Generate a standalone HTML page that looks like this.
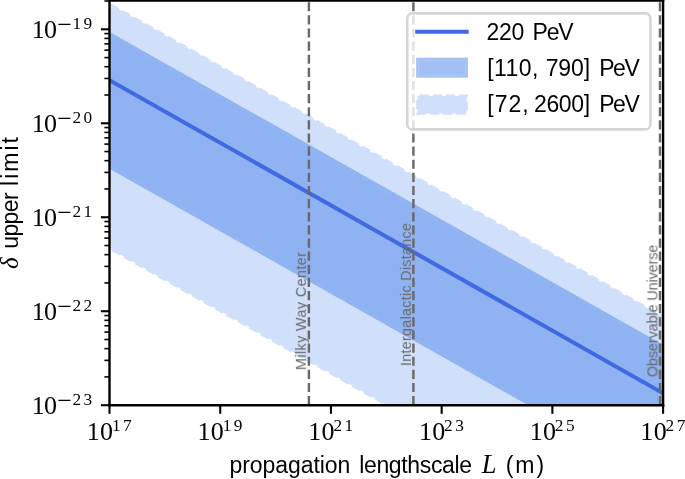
<!DOCTYPE html>
<html lang="en"><head><meta charset="utf-8"><title>delta upper limit vs propagation lengthscale</title>
<style>html,body{margin:0;padding:0;background:#fff;}body{width:685px;height:479px;overflow:hidden;}svg{display:block;}text{white-space:pre;}</style></head><body>
<svg width="685" height="479" viewBox="0 0 685 479">
<rect width="685" height="479" fill="#ffffff"/>
<defs><clipPath id="ax"><rect x="109.5" y="0.6" width="553.6" height="404.59999999999997"/></clipPath></defs>
<g clip-path="url(#ax)">
<polygon points="109.5,4.10 663.1,316.88 663.1,561.08 109.5,248.30" fill="#d0dffa"/>
<line x1="109.5" y1="4.10" x2="663.1" y2="316.88" stroke="#d0dffa" stroke-width="2.7" stroke-dasharray="9.17 3.96" stroke-dashoffset="11.9"/>
<line x1="109.5" y1="248.30" x2="663.1" y2="561.08" stroke="#d0dffa" stroke-width="2.7" stroke-dasharray="9.17 3.96" stroke-dashoffset="9.9"/>
<polygon points="109.5,31.90 663.1,344.68 663.1,481.48 109.5,168.70" fill="#8fb3f2"/>
<line x1="109.5" y1="34.70" x2="663.1" y2="347.48" stroke="#ffffff" stroke-opacity="0.1" stroke-width="0.8" stroke-dasharray="9.17 3.96"/>
<line x1="109.5" y1="165.90" x2="663.1" y2="478.68" stroke="#ffffff" stroke-opacity="0.1" stroke-width="0.8" stroke-dasharray="9.17 3.96"/>
<line x1="109.5" y1="80.2" x2="663.1" y2="393.2" stroke="#4169e1" stroke-width="4.0"/>
<line x1="308.9" y1="405.2" x2="308.9" y2="0.6" stroke="#696969" stroke-width="2.45" stroke-dasharray="9.17 3.96"/>
<line x1="413.4" y1="405.2" x2="413.4" y2="0.6" stroke="#696969" stroke-width="2.45" stroke-dasharray="9.17 3.96"/>
<line x1="660.0" y1="405.2" x2="660.0" y2="0.6" stroke="#696969" stroke-width="2.45" stroke-dasharray="9.17 3.96"/>
</g>
<g opacity="0.995">
<text transform="translate(305.90,370.15) rotate(-90)" font-family='"Liberation Sans", sans-serif' font-size="14.4" letter-spacing="0.388" fill="#696969">Milky Way Center</text>
<text transform="translate(410.90,366.10) rotate(-90)" font-family='"Liberation Sans", sans-serif' font-size="14.4" letter-spacing="0.262" fill="#696969">Intergalactic Distance</text>
<text transform="translate(657.40,377.22) rotate(-90)" font-family='"Liberation Sans", sans-serif' font-size="14.4" letter-spacing="-0.103" fill="#696969">Observable Universe</text>
</g>
<g stroke="#000" stroke-width="2.4" stroke-linecap="square" fill="none">
<line x1="109.5" y1="0.6" x2="109.5" y2="405.2"/><line x1="663.1" y1="0.6" x2="663.1" y2="405.2"/>
<line x1="109.5" y1="405.2" x2="663.1" y2="405.2"/><line x1="109.5" y1="0.6" x2="663.1" y2="0.6"/></g>
<g stroke="#000" stroke-width="2.1">
<line x1="100.9" y1="405.20" x2="109.5" y2="405.20"/>
<line x1="100.9" y1="311.23" x2="109.5" y2="311.23"/>
<line x1="100.9" y1="217.25" x2="109.5" y2="217.25"/>
<line x1="100.9" y1="123.28" x2="109.5" y2="123.28"/>
<line x1="100.9" y1="29.30" x2="109.5" y2="29.30"/>
<line x1="109.50" y1="405.2" x2="109.50" y2="413.8"/>
<line x1="220.22" y1="405.2" x2="220.22" y2="413.8"/>
<line x1="330.94" y1="405.2" x2="330.94" y2="413.8"/>
<line x1="441.66" y1="405.2" x2="441.66" y2="413.8"/>
<line x1="552.38" y1="405.2" x2="552.38" y2="413.8"/>
<line x1="663.10" y1="405.2" x2="663.10" y2="413.8"/>
</g><g stroke="#000" stroke-width="1.6">
<line x1="104.4" y1="376.91" x2="109.5" y2="376.91"/>
<line x1="104.4" y1="360.36" x2="109.5" y2="360.36"/>
<line x1="104.4" y1="348.62" x2="109.5" y2="348.62"/>
<line x1="104.4" y1="339.51" x2="109.5" y2="339.51"/>
<line x1="104.4" y1="332.07" x2="109.5" y2="332.07"/>
<line x1="104.4" y1="325.78" x2="109.5" y2="325.78"/>
<line x1="104.4" y1="320.33" x2="109.5" y2="320.33"/>
<line x1="104.4" y1="315.53" x2="109.5" y2="315.53"/>
<line x1="104.4" y1="282.94" x2="109.5" y2="282.94"/>
<line x1="104.4" y1="266.39" x2="109.5" y2="266.39"/>
<line x1="104.4" y1="254.65" x2="109.5" y2="254.65"/>
<line x1="104.4" y1="245.54" x2="109.5" y2="245.54"/>
<line x1="104.4" y1="238.10" x2="109.5" y2="238.10"/>
<line x1="104.4" y1="231.81" x2="109.5" y2="231.81"/>
<line x1="104.4" y1="226.36" x2="109.5" y2="226.36"/>
<line x1="104.4" y1="221.55" x2="109.5" y2="221.55"/>
<line x1="104.4" y1="188.96" x2="109.5" y2="188.96"/>
<line x1="104.4" y1="172.41" x2="109.5" y2="172.41"/>
<line x1="104.4" y1="160.67" x2="109.5" y2="160.67"/>
<line x1="104.4" y1="151.56" x2="109.5" y2="151.56"/>
<line x1="104.4" y1="144.12" x2="109.5" y2="144.12"/>
<line x1="104.4" y1="137.83" x2="109.5" y2="137.83"/>
<line x1="104.4" y1="132.38" x2="109.5" y2="132.38"/>
<line x1="104.4" y1="127.58" x2="109.5" y2="127.58"/>
<line x1="104.4" y1="94.99" x2="109.5" y2="94.99"/>
<line x1="104.4" y1="78.44" x2="109.5" y2="78.44"/>
<line x1="104.4" y1="66.70" x2="109.5" y2="66.70"/>
<line x1="104.4" y1="57.59" x2="109.5" y2="57.59"/>
<line x1="104.4" y1="50.15" x2="109.5" y2="50.15"/>
<line x1="104.4" y1="43.86" x2="109.5" y2="43.86"/>
<line x1="104.4" y1="38.41" x2="109.5" y2="38.41"/>
<line x1="104.4" y1="33.60" x2="109.5" y2="33.60"/>
<line x1="104.4" y1="1.01" x2="109.5" y2="1.01"/>
</g>
<rect x="407.3" y="13.4" width="243.1" height="116" rx="5" ry="5" fill="#ffffff" fill-opacity="0.8" stroke="#cccccc" stroke-opacity="0.8" stroke-width="2.6"/>
<line x1="415.2" y1="31.8" x2="468.7" y2="31.8" stroke="#4169e1" stroke-width="4.1"/>
<rect x="416.2" y="57.7" width="51.7" height="19.9" fill="#a2bff4"/>
<rect x="418.6" y="60.1" width="46.9" height="15.1" fill="none" stroke="#ffffff" stroke-opacity="0.2" stroke-width="0.8"/>
<rect x="417.5" y="95.9" width="49.1" height="17.6" fill="#d0dffa" stroke="#d0dffa" stroke-width="2.7" stroke-dasharray="9.17 3.96" stroke-dashoffset="11"/>
<g opacity="0.995">
<text x="31.76" y="414.10" font-family='"Liberation Serif", serif' font-size="26" letter-spacing="-0.720" fill="#000">10</text>
<text x="57.30" y="409.01" font-family='"Liberation Serif", serif' font-size="26" fill="#000">−</text>
<text x="31.76" y="320.12" font-family='"Liberation Serif", serif' font-size="26" letter-spacing="-0.720" fill="#000">10</text>
<text x="57.30" y="315.03" font-family='"Liberation Serif", serif' font-size="26" fill="#000">−</text>
<text x="31.76" y="226.15" font-family='"Liberation Serif", serif' font-size="26" letter-spacing="-0.720" fill="#000">10</text>
<text x="57.30" y="221.06" font-family='"Liberation Serif", serif' font-size="26" fill="#000">−</text>
<text x="31.76" y="132.18" font-family='"Liberation Serif", serif' font-size="26" letter-spacing="-0.720" fill="#000">10</text>
<text x="57.30" y="127.09" font-family='"Liberation Serif", serif' font-size="26" fill="#000">−</text>
<text x="31.76" y="38.20" font-family='"Liberation Serif", serif' font-size="26" letter-spacing="-0.720" fill="#000">10</text>
<text x="57.30" y="33.11" font-family='"Liberation Serif", serif' font-size="26" fill="#000">−</text>
<text x="86.76" y="439.70" font-family='"Liberation Serif", serif' font-size="26" letter-spacing="0.280" fill="#000">10</text>
<text x="197.48" y="439.70" font-family='"Liberation Serif", serif' font-size="26" letter-spacing="0.280" fill="#000">10</text>
<text x="308.20" y="439.70" font-family='"Liberation Serif", serif' font-size="26" letter-spacing="0.280" fill="#000">10</text>
<text x="418.92" y="439.70" font-family='"Liberation Serif", serif' font-size="26" letter-spacing="0.280" fill="#000">10</text>
<text x="529.64" y="439.70" font-family='"Liberation Serif", serif' font-size="26" letter-spacing="0.280" fill="#000">10</text>
<text x="640.36" y="439.70" font-family='"Liberation Serif", serif' font-size="26" letter-spacing="0.280" fill="#000">10</text>
<text x="229.49" y="472.80" font-family='"Liberation Sans", sans-serif' font-size="23" letter-spacing="-0.065" fill="#000">propagation</text>
<text x="359.19" y="472.80" font-family='"Liberation Sans", sans-serif' font-size="23" letter-spacing="-0.342" fill="#000">lengthscale</text>
<text x="481.66" y="472.70" font-family='"Liberation Serif", serif' font-size="26.5" font-style="italic" fill="#000">L</text>
<text x="505.72" y="472.80" font-family='"Liberation Sans", sans-serif' font-size="23" letter-spacing="1.980" fill="#000">(m)</text>
<text transform="translate(18.00,269.05) rotate(-90)" font-family='"Liberation Serif", serif' font-size="25" font-style="italic" fill="#000">δ</text>
<text transform="translate(18.00,248.81) rotate(-90)" font-family='"Liberation Sans", sans-serif' font-size="23" letter-spacing="-0.578" fill="#000">upper</text>
<text transform="translate(18.00,185.91) rotate(-90)" font-family='"Liberation Sans", sans-serif' font-size="23" letter-spacing="2.000" fill="#000">limit</text>
<text x="486.45" y="40.10" font-family='"Liberation Sans", sans-serif' font-size="23" letter-spacing="-0.220" fill="#000">220</text>
<text x="532.46" y="40.10" font-family='"Liberation Sans", sans-serif' font-size="23" letter-spacing="-1.150" fill="#000">PeV</text>
<text x="487.19" y="76.10" font-family='"Liberation Sans", sans-serif' font-size="23" letter-spacing="0.408" fill="#000">[110,</text>
<text x="545.65" y="76.10" font-family='"Liberation Sans", sans-serif' font-size="23" letter-spacing="-0.120" fill="#000">790]</text>
<text x="599.16" y="76.10" font-family='"Liberation Sans", sans-serif' font-size="23" letter-spacing="-1.450" fill="#000">PeV</text>
<text x="487.19" y="112.00" font-family='"Liberation Sans", sans-serif' font-size="23" letter-spacing="1.057" fill="#000">[72,</text>
<text x="533.95" y="112.00" font-family='"Liberation Sans", sans-serif' font-size="23" letter-spacing="-0.335" fill="#000">2600]</text>
<text x="599.16" y="112.00" font-family='"Liberation Sans", sans-serif' font-size="23" letter-spacing="-1.450" fill="#000">PeV</text>
<text x="72.54" y="404.80" font-family='"Liberation Serif", serif' font-size="17.3" letter-spacing="2.45" fill="#000">23</text>
<text x="72.54" y="310.82" font-family='"Liberation Serif", serif' font-size="17.3" letter-spacing="2.45" fill="#000">22</text>
<text x="72.54" y="216.85" font-family='"Liberation Serif", serif' font-size="17.3" letter-spacing="2.45" fill="#000">21</text>
<text x="72.54" y="122.88" font-family='"Liberation Serif", serif' font-size="17.3" letter-spacing="2.45" fill="#000">20</text>
<text x="72.54" y="28.90" font-family='"Liberation Serif", serif' font-size="17.3" letter-spacing="2.45" fill="#000">19</text>
<text x="111.95" y="430.60" font-family='"Liberation Serif", serif' font-size="17.3" letter-spacing="2.45" fill="#000">17</text>
<text x="222.67" y="430.60" font-family='"Liberation Serif", serif' font-size="17.3" letter-spacing="2.45" fill="#000">19</text>
<text x="333.39" y="430.60" font-family='"Liberation Serif", serif' font-size="17.3" letter-spacing="2.45" fill="#000">21</text>
<text x="444.11" y="430.60" font-family='"Liberation Serif", serif' font-size="17.3" letter-spacing="2.45" fill="#000">23</text>
<text x="554.83" y="430.60" font-family='"Liberation Serif", serif' font-size="17.3" letter-spacing="2.45" fill="#000">25</text>
<text x="665.55" y="430.60" font-family='"Liberation Serif", serif' font-size="17.3" letter-spacing="2.45" fill="#000">27</text>
</g>
</svg></body></html>
